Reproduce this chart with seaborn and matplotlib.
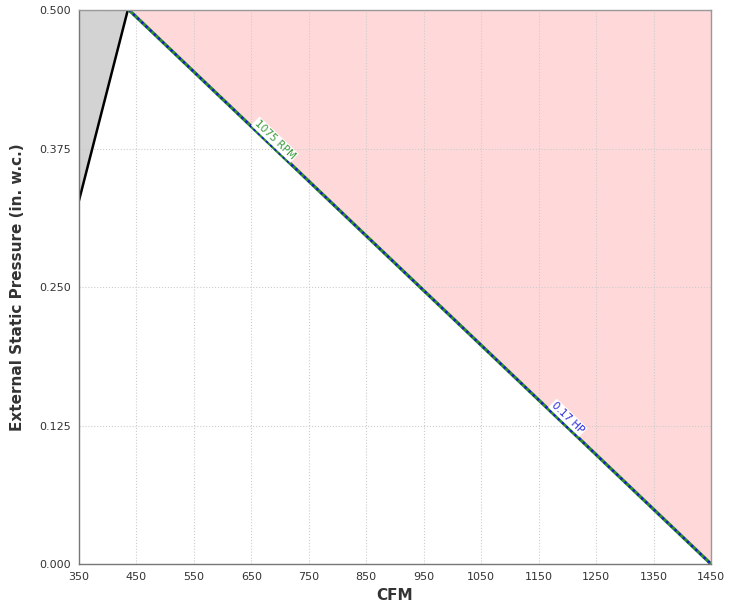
import matplotlib
matplotlib.use('Agg')
import matplotlib.pyplot as plt
import seaborn as sns
import pandas as pd

# fan curve (operating limit line) and HP line share the same points
fan_cfm = [437, 1450]
fan_esp = [0.500, 0.000]
# left boundary (black line)
left_cfm = [350, 435]
left_esp = [0.328, 0.500]

x_ticks = [350, 450, 550, 650, 750, 850, 950, 1050, 1150, 1250, 1350, 1450]
y_ticks = [0.000, 0.125, 0.250, 0.375, 0.500]

rpm_label = '1075 RPM'
hp_label = '0.17 HP'

sns.set_style('white')
plt.rcParams['font.family'] = ['DejaVu Sans']

fig = plt.figure(figsize=(7.34, 6.06), dpi=100)
ax = fig.add_axes([0.1076, 0.0693, 0.8611, 0.9142])

# shaded regions
ax.fill_between(fan_cfm, fan_esp, 0.5, color='#ffd9da', linewidth=0, zorder=1)
ax.fill_betweenx(left_esp, 350, left_cfm, color='#d3d3d3', linewidth=0, zorder=1)

fan = pd.DataFrame({'CFM': fan_cfm, 'ESP': fan_esp})
left = pd.DataFrame({'CFM': left_cfm, 'ESP': left_esp})

sns.lineplot(data=left, x='CFM', y='ESP', color='black', linewidth=1.8, ax=ax, zorder=3)
sns.lineplot(data=fan, x='CFM', y='ESP', color='#2e8b2e', linewidth=2.4, ax=ax, zorder=3)
sns.lineplot(data=fan, x='CFM', y='ESP', color='#1a1acc', linewidth=1.8,
             linestyle=(0, (1, 1.3)), ax=ax, zorder=4)

ax.text(691, 0.383, rpm_label, rotation=-43.5, color='#3a9a3a', fontsize=7.5,
        ha='center', va='center', rotation_mode='anchor', zorder=5,
        bbox=dict(facecolor='white', edgecolor='none', pad=0.8))
ax.text(1201, 0.132, hp_label, rotation=-43.5, color='#2a2ae0', fontsize=7.5,
        ha='center', va='center', rotation_mode='anchor', zorder=5,
        bbox=dict(facecolor='white', edgecolor='none', pad=0.8))

ax.set_xlim(350, 1450)
ax.set_ylim(0, 0.5)
ax.set_xticks(x_ticks)
ax.set_yticks(y_ticks)
ax.set_yticklabels([f'{v:.3f}' for v in y_ticks])
ax.tick_params(labelsize=8, colors='#333333', length=0, pad=6)
ax.grid(True, color='#cccccc', linestyle=':', linewidth=0.8, zorder=2)
ax.set_axisbelow(False)
for s in ax.spines.values():
    s.set_color('#999999')
    s.set_linewidth(1)
    s.set_zorder(6)
ax.spines['left'].set_color('#777777')
ax.spines['bottom'].set_color('#777777')

ax.set_xlabel('CFM', fontsize=11, fontweight='bold', color='#333333', labelpad=4)
ax.set_ylabel('External Static Pressure (in. w.c.)', fontsize=11,
              fontweight='bold', color='#333333', labelpad=10)

fig.savefig('out.png', dpi=100)
